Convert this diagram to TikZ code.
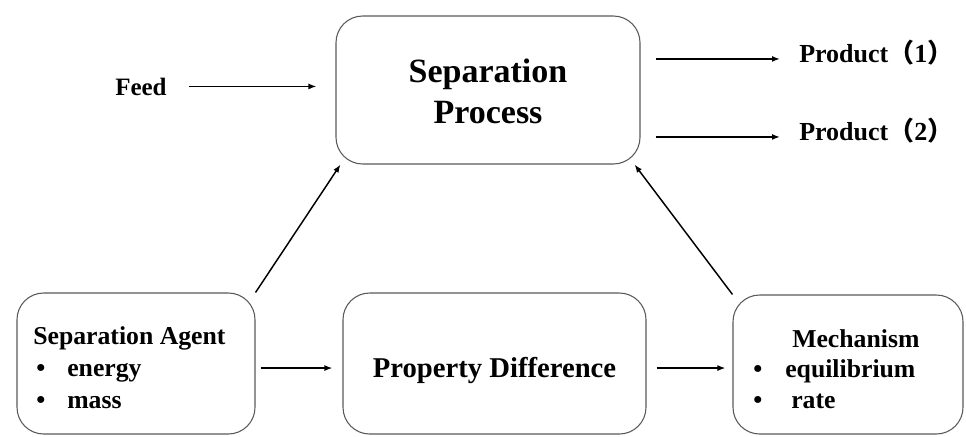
\documentclass[tikz,border=0pt]{standalone}
\usepackage{fontspec}
\setmainfont{Liberation Serif}
\newfontfamily\cjk{Noto Sans CJK SC}
\usetikzlibrary{arrows.meta}
\tikzset{
    box/.style={draw=black!65, line width=0.8pt, rounded corners=20pt},
    flow/.style={-{Latex[length=6pt,width=4.5pt]}, line width=1.1pt},
    txt/.style={inner sep=0pt, anchor=base west},
}
\newcommand{\fnbig}{\fontsize{25.5}{30}\selectfont\bfseries}
\newcommand{\fnmid}{\fontsize{19.3}{23}\selectfont\bfseries}

\begin{document}
\begin{tikzpicture}[x=0.75pt, y=-0.75pt]
        \useasboundingbox (0,0) rectangle (966,436);
        % boxes
        \node[box, minimum width=228pt, minimum height=111pt] (sp) at (488,90) {};
        \node[box, minimum width=178.5pt, minimum height=105.75pt] (agent) at (136,363.5) {};
        \node[box, minimum width=227.25pt, minimum height=105.75pt] (prop) at (494.5,363.5) {};
        \node[box, minimum width=172.5pt, minimum height=104.25pt] (mech) at (848,364.5) {};
        % texts
        \node[inner sep=0pt, anchor=base, font=\fnbig] (sp1) at (488,82) {Separation};
        \node[inner sep=0pt, anchor=base, font=\fnbig] (sp2) at (488,123) {Process};
        \node[txt, font=\fontsize{18.75}{22}\selectfont\bfseries] (feed) at (115,95) {Feed};
        \node[txt, font=\fontsize{19.5}{23}\selectfont\bfseries] (p1) at (799,62) {Product{\cjk （}1{\cjk ）}};
        \node[txt, font=\fontsize{19.5}{23}\selectfont\bfseries] (p2) at (799,140) {Product{\cjk （}2{\cjk ）}};
        \node[txt, font=\fnmid] (ag0) at (33,344) {Separation Agent};
        \node[txt, font=\fnmid] (ag1b) at (36,376) {•};
        \node[txt, font=\fnmid] (ag1) at (67,376) {energy};
        \node[txt, font=\fnmid] (ag2b) at (36,408) {•};
        \node[txt, font=\fnmid] (ag2) at (67,408) {mass};
        \node[inner sep=0pt, anchor=base, font=\fontsize{21.5}{25}\selectfont\bfseries] (pd) at (494.5,377) {Property Difference};
        \node[txt, font=\fnmid] (me0) at (792,347) {Mechanism};
        \node[txt, font=\fnmid] (me1b) at (753,377) {•};
        \node[txt, font=\fnmid] (me1) at (785,377) {equilibrium};
        \node[txt, font=\fnmid] (me2b) at (753,408) {•};
        \node[txt, font=\fnmid] (me2) at (791,408) {rate};
        % arrows
        \draw[flow, shorten <=16.5pt, shorten >=14.25pt] (feed.east) -- (feed.east -| sp.west);
        \draw[flow, shorten <=11.25pt, shorten >=14.25pt] (sp.east |- p1.mid west) -- (p1.mid west);
        \draw[flow, shorten <=11.25pt, shorten >=14.25pt] (sp.east |- p2.mid west) -- (p2.mid west);
        \draw[flow] (agent.north east) -- ([xshift=3.75pt]sp.south west);
        \draw[flow] (mech.north west) -- ([xshift=-4.5pt]sp.south east);
        \draw[flow, shorten <=3.75pt, shorten >=7.5pt] ([yshift=-3.4pt]agent.east) -- ([yshift=-3.4pt]agent.east -| prop.west);
        \draw[flow, shorten <=7.5pt, shorten >=5.25pt] ([yshift=-3.4pt]prop.east) -- ([yshift=-3.4pt]prop.east -| mech.west);
    \end{tikzpicture}
\end{document}
